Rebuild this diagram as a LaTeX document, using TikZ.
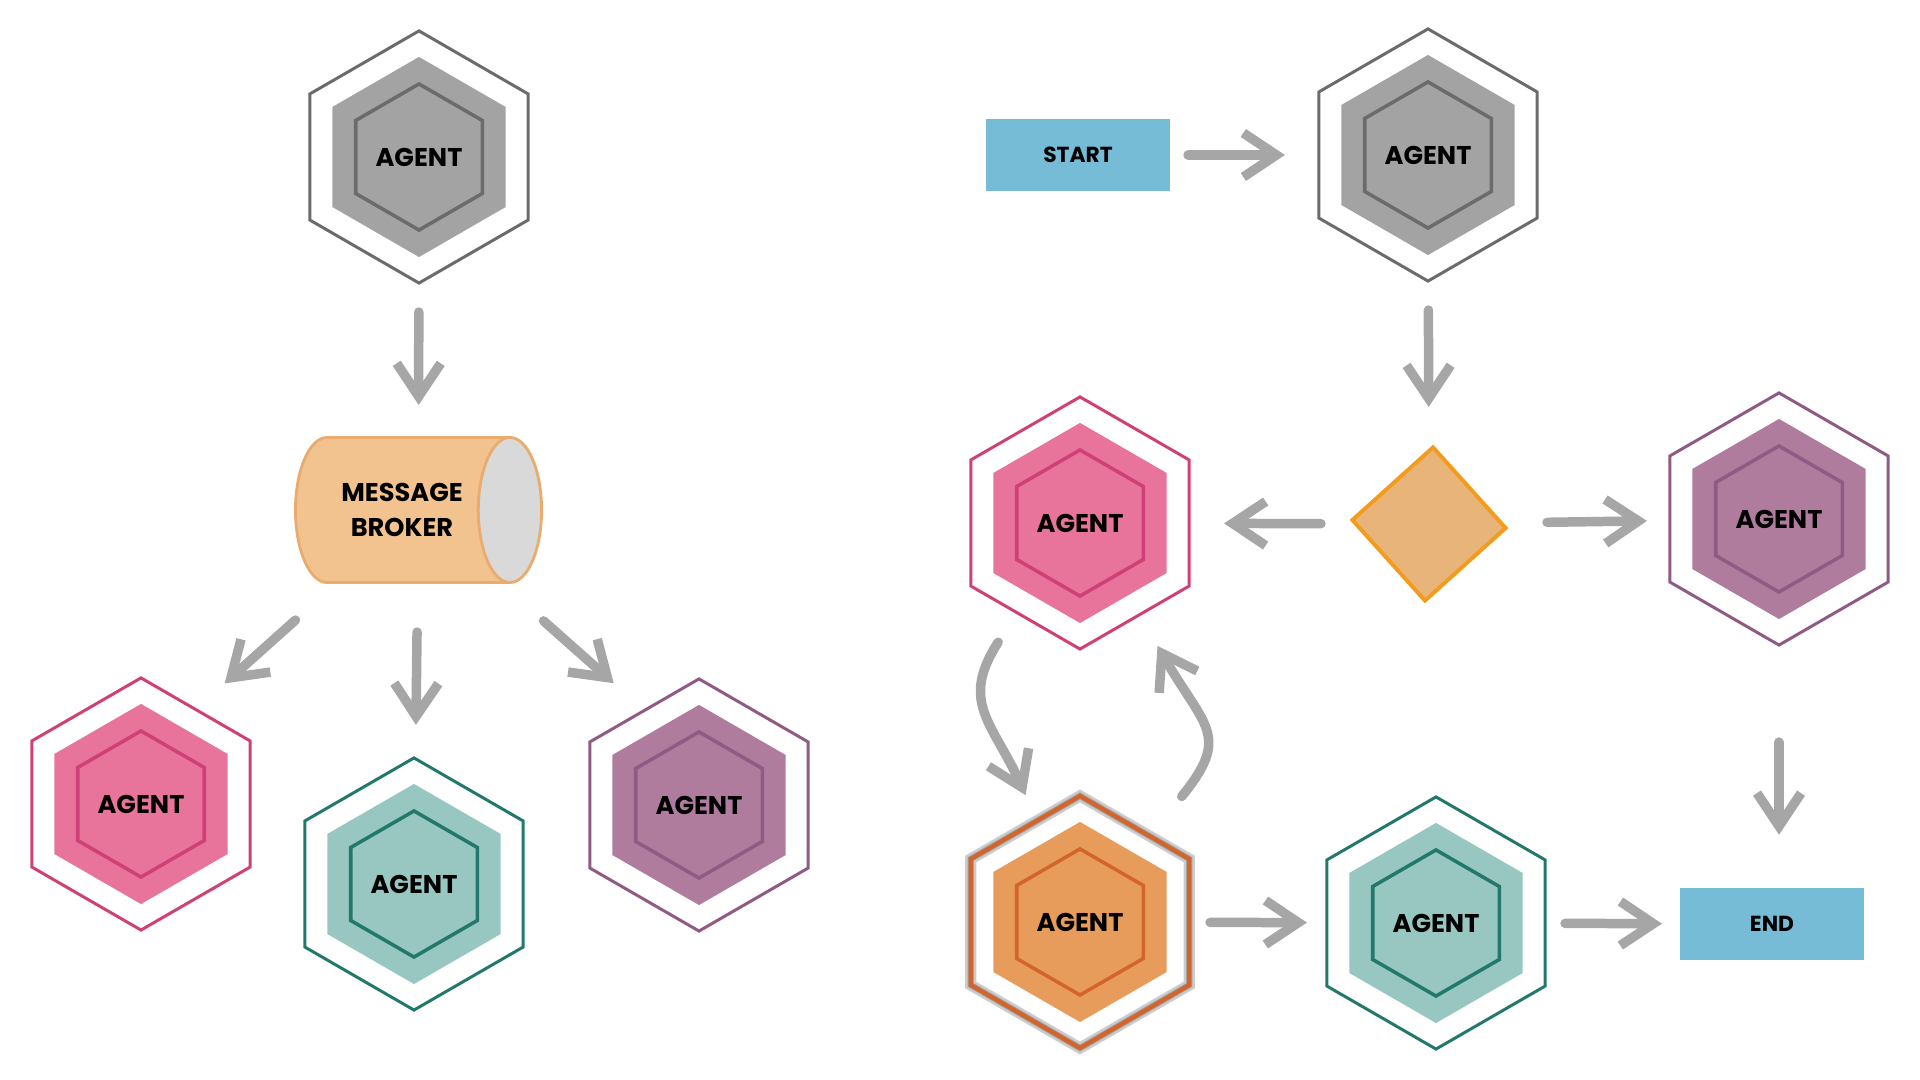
\documentclass[tikz,border=0pt]{standalone}
\usepackage{fontspec}
\setmainfont{Poppins}
\usetikzlibrary{shapes.geometric, arrows.meta, backgrounds}

\definecolor{greyline}{HTML}{6B6B6B}
\definecolor{greyfill}{HTML}{A3A3A3}
\definecolor{pinkline}{HTML}{CF4176}
\definecolor{pinkfill}{HTML}{E8749B}
\definecolor{tealline}{HTML}{23786C}
\definecolor{tealfill}{HTML}{97C7C0}
\definecolor{plumline}{HTML}{8F5B85}
\definecolor{plumfill}{HTML}{B07C9E}
\definecolor{orgline}{HTML}{D3642B}
\definecolor{orgfill}{HTML}{E89C5B}
\definecolor{brokerfill}{HTML}{F2C28F}
\definecolor{brokerline}{HTML}{E9AC6E}
\definecolor{brokercap}{HTML}{D9D9D9}
\definecolor{boxblue}{HTML}{76BCD6}
\definecolor{diafill}{HTML}{E9B479}
\definecolor{dialine}{HTML}{F29B1C}
\definecolor{arrowgray}{HTML}{A6A6A6}

\tikzset{
  hexa/.style={regular polygon, regular polygon sides=6, shape border rotate=30, inner sep=0pt, outer sep=0pt},
  agentout/.style={hexa, minimum size=2.52cm, draw=#1, line width=0.85pt},
  agentmid/.style={hexa, minimum size=2cm, fill=#1},
  agentin/.style={hexa, minimum size=1.46cm, draw=#1, line width=1pt, font=\fontsize{7.3}{8}\selectfont\bfseries},
  glow/.style={hexa, minimum size=2.52cm, draw=black, draw opacity=.2, line width=#1},
  flowbox/.style={rectangle, fill=boxblue, minimum width=1.83cm, minimum height=0.71cm, inner sep=0pt, font=\fontsize{6.2}{7}\selectfont\bfseries},
  arr/.style={draw=arrowgray, line width=2.7pt, line cap=round, -{Straight Barb[length=3.3mm, width=4.4mm]}},
}

\newcommand{\agent}[3]{%
  \node[agentout=#3line] (#1) at (#2) {};
  \node[agentmid=#3fill] at (#1) {};
  \node[agentin=#3line] at (#1) {AGENT};
}

\begin{document}
\begin{tikzpicture}[x=0.01cm, y=-0.01cm]
\useasboundingbox (0,0) rectangle (1920,1080);

% left: broker fan-out
\agent{agL}{419,157}{grey}
\node[cylinder, shape aspect=1.18, minimum width=1.45cm, minimum height=2.46cm, inner sep=0pt,
  draw=brokerline, line width=0.8pt, cylinder uses custom fill, cylinder body fill=brokerfill,
  cylinder end fill=brokercap, align=center, font=\fontsize{7.3}{10}\selectfont\bfseries]
  (broker) at (402,510) {MESSAGE\\BROKER};
\agent{pinkL}{141,804}{pink}
\agent{tealL}{414,884}{teal}
\agent{purpL}{699,805}{plum}

\draw[arr, shorten <=1.55cm, shorten >=1.05cm] (agL.center) -- (broker.shape center);
\draw[arr, shorten <=1.65cm, shorten >=0.39cm] (broker.shape center) -- (pinkL.60);
\draw[arr, shorten <=1.22cm, shorten >=1.59cm] (broker.shape center) -- (tealL.center);
\draw[arr, shorten <=1.67cm, shorten >=0.41cm] (broker.shape center) -- (purpL.120);

% right: flow with decision
\node[flowbox] (start) at (1078,155) {START};
\agent{agR}{1428,155}{grey}
\node[diamond, aspect=1, minimum size=1.55cm, inner sep=0pt, fill=diafill, draw=dialine,
  line width=1.1pt, rotate=-3] (dec) at (1429,524) {};
\agent{pinkR}{1080,523}{pink}
\agent{purpR}{1779,519}{plum}
\agent{orng}{1080,922}{org}
\node[hexa, minimum size=2.52cm, draw=orgline, line width=1.2pt] at (orng) {};
\agent{tealR}{1436,923}{teal}
\node[flowbox] (endbox) at (1772,924) {END};

\begin{scope}[on background layer]
  \node[glow=3.2pt] at (orng) {};
  \node[glow=1.8pt] at (orng) {};
\end{scope}

\draw[arr, shorten <=1.10cm, shorten >=1.43cm] (start.center) -- (agR.center);
\draw[arr, shorten <=1.55cm, shorten >=1.17cm] (agR.center) -- (dec.center);
\draw[arr, shorten <=1.08cm, shorten >=1.44cm] (dec.center) -- (pinkR.center);
\draw[arr, shorten <=1.18cm, shorten >=1.32cm] (dec.center) -- (purpR.center);
\draw[arr, shorten <=2.23cm, shorten >=0.53cm] (purpR.center) -- (purpR.center |- endbox.north);
\draw[arr, shorten <=1.30cm, shorten >=1.29cm] (orng.center) -- (tealR.center);
\draw[arr, shorten <=1.29cm, shorten >=1.10cm] (tealR.center) -- (endbox.center);
\draw[arr, shorten <=0.35cm, shorten >=0.28cm] (pinkR.235) .. controls +(-58,90) and +(-44,-98) .. (orng.113);
\draw[arr, shorten <=0.51cm, shorten >=0.36cm] (orng.51) .. controls +(82,-101) and +(65,113) .. (pinkR.303);
\end{tikzpicture}
\end{document}
